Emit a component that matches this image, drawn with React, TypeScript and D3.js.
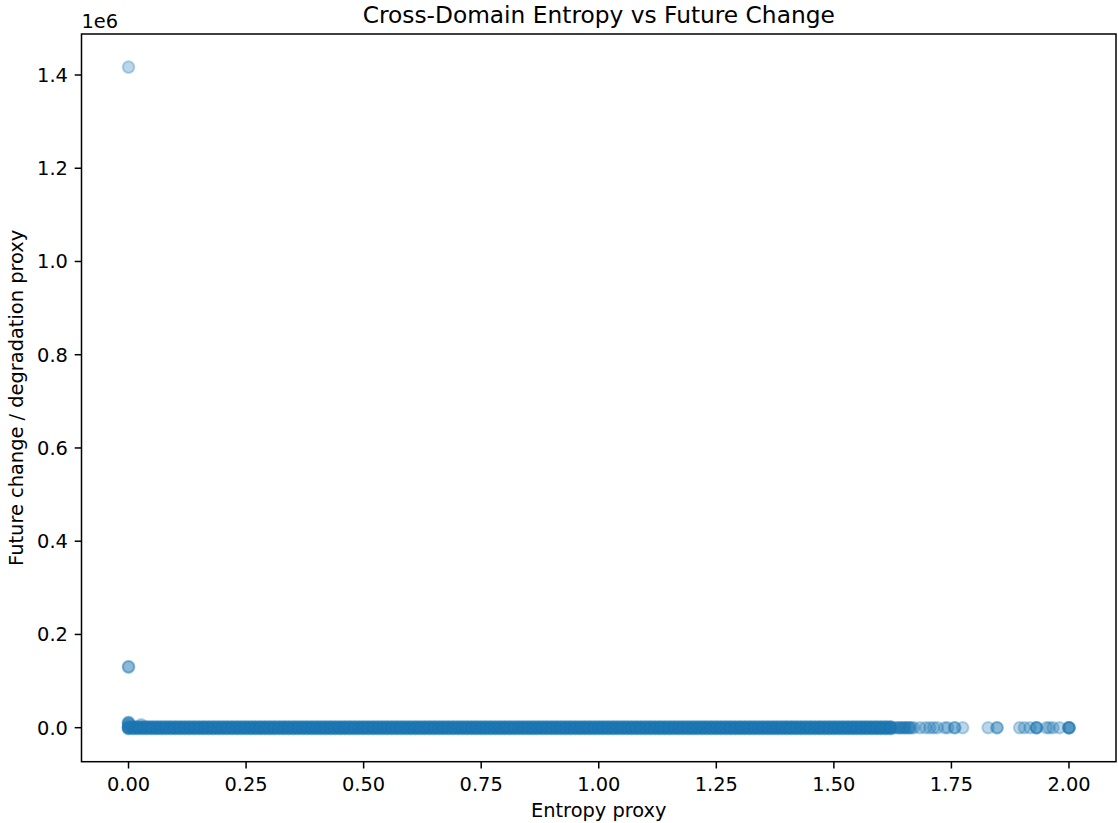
import React from "react";
import * as d3 from "d3";

// ---- data ----
const bandX = [
  0.00, 0.01, 0.02, 0.03, 0.04, 0.05, 0.06, 0.07, 0.08, 0.09,
  0.10, 0.11, 0.12, 0.13, 0.14, 0.15, 0.16, 0.17, 0.18, 0.19,
  0.20, 0.21, 0.22, 0.23, 0.24, 0.25, 0.26, 0.27, 0.28, 0.29,
  0.30, 0.31, 0.32, 0.33, 0.34, 0.35, 0.36, 0.37, 0.38, 0.39,
  0.40, 0.41, 0.42, 0.43, 0.44, 0.45, 0.46, 0.47, 0.48, 0.49,
  0.50, 0.51, 0.52, 0.53, 0.54, 0.55, 0.56, 0.57, 0.58, 0.59,
  0.60, 0.61, 0.62, 0.63, 0.64, 0.65, 0.66, 0.67, 0.68, 0.69,
  0.70, 0.71, 0.72, 0.73, 0.74, 0.75, 0.76, 0.77, 0.78, 0.79,
  0.80, 0.81, 0.82, 0.83, 0.84, 0.85, 0.86, 0.87, 0.88, 0.89,
  0.90, 0.91, 0.92, 0.93, 0.94, 0.95, 0.96, 0.97, 0.98, 0.99,
  1.00, 1.01, 1.02, 1.03, 1.04, 1.05, 1.06, 1.07, 1.08, 1.09,
  1.10, 1.11, 1.12, 1.13, 1.14, 1.15, 1.16, 1.17, 1.18, 1.19,
  1.20, 1.21, 1.22, 1.23, 1.24, 1.25, 1.26, 1.27, 1.28, 1.29,
  1.30, 1.31, 1.32, 1.33, 1.34, 1.35, 1.36, 1.37, 1.38, 1.39,
  1.40, 1.41, 1.42, 1.43, 1.44, 1.45, 1.46, 1.47, 1.48, 1.49,
  1.50, 1.51, 1.52, 1.53, 1.54, 1.55, 1.56, 1.57, 1.58, 1.59,
  1.60, 1.61, 1.62,
];
// the dense band: many records at each entropy value with tiny changes
const bandYLevels = [-2000, -1200, -400, 400, 1200, 2000];

// sparse tail of the band
const tailX = [
  1.625, 1.63, 1.635, 1.64, 1.64, 1.645, 1.65, 1.65, 1.655, 1.66, 1.66, 1.665,
  1.67, 1.683, 1.695, 1.704, 1.712, 1.72, 1.736, 1.742, 1.757, 1.757, 1.774,
  1.828, 1.847, 1.847,
  1.895, 1.905, 1.917, 1.931, 1.931, 1.931, 1.952, 1.958, 1.966, 1.98,
  2.0, 2.0, 2.0, 2.0,
];
const tailY = [
  0, 0, 0, 0, 0, 0, 0, 0, 0, 0, 0, 0,
  0, 0, 0, 0, 0, 0, 0, 0, 0, 0, 0,
  0, 0, 0,
  0, 0, 0, 0, 0, 0, 0, 0, 0, 0,
  0, 0, 0, 0,
];

// outliers at zero entropy
const outX = [0.0, 0.0, 0.0, 0.0, 0.0, 0.0, 0.0, 0.027];
const outY = [1417000, 130500, 130500, 11000, 11000, 9000, 6000, 6000];

const xTicks = [0, 0.25, 0.5, 0.75, 1.0, 1.25, 1.5, 1.75, 2.0];
const yTicks = [0, 200000, 400000, 600000, 800000, 1000000, 1200000, 1400000];

const TITLE = "Cross-Domain Entropy vs Future Change";
const XLABEL = "Entropy proxy";
const YLABEL = "Future change / degradation proxy";
const COLOR = "#1f77b4";

export default function App() {
  const W = 1118, H = 823;
  const left = 81.5, right = 1116, top = 34, bottom = 761.7;

  const points: [number, number][] = [];
  bandX.forEach((x) => bandYLevels.forEach((y) => points.push([x, y])));
  tailX.forEach((x, i) => points.push([x, tailY[i]]));
  outX.forEach((x, i) => points.push([x, outY[i]]));

  const xs = points.map((p) => p[0]);
  const ys = points.map((p) => p[1]);
  const [x0, x1] = d3.extent(xs) as [number, number];
  const [y0, y1] = d3.extent(ys) as [number, number];
  const mx = (x1 - x0) * 0.05, my = (y1 - y0) * 0.05;
  const x = d3.scaleLinear().domain([x0 - mx, x1 + mx]).range([left, right]);
  const y = d3.scaleLinear().domain([y0 - my, y1 + my]).range([bottom, top]);

  const font = "DejaVu Sans, sans-serif";
  const tickLen = 6.8, pad = 6.8;

  return (
    <div style={{ position: "absolute", left: 0, top: 0 }}>
      <svg width={W} height={H} style={{ display: "block", background: "#fff" }} fontFamily={font}>
        <rect x={0} y={0} width={W} height={H} fill="#fff" />
        <g>
          {points.map((p, i) => (
            <circle
              key={i}
              cx={x(p[0])}
              cy={y(p[1])}
              r={5.8}
              fill={COLOR}
              fillOpacity={0.3}
              stroke={COLOR}
              strokeOpacity={0.3}
              strokeWidth={2}
            />
          ))}
        </g>
        {/* spines */}
        <rect x={left} y={top} width={right - left} height={bottom - top} fill="none" stroke="#000" strokeWidth={1.5} />
        {/* x ticks */}
        {xTicks.map((t) => (
          <g key={"x" + t}>
            <line x1={x(t)} x2={x(t)} y1={bottom} y2={bottom + tickLen} stroke="#000" strokeWidth={1.5} />
            <text x={x(t)} y={bottom + tickLen + pad + 15.6} fontSize={19.4} textAnchor="middle" fill="#000">
              {d3.format(".2f")(t)}
            </text>
          </g>
        ))}
        {/* y ticks */}
        {yTicks.map((t) => (
          <g key={"y" + t}>
            <line x1={left - tickLen} x2={left} y1={y(t)} y2={y(t)} stroke="#000" strokeWidth={1.5} />
            <text x={left - tickLen - pad} y={y(t) + 7} fontSize={19.4} textAnchor="end" fill="#000">
              {d3.format(".1f")(t / 1e6)}
            </text>
          </g>
        ))}
        <text x={left} y={28} fontSize={19.4} fill="#000">1e6</text>
        <text x={(left + right) / 2} y={23} fontSize={23.3} textAnchor="middle" fill="#000">{TITLE}</text>
        <text x={(left + right) / 2} y={817} fontSize={19.4} textAnchor="middle" fill="#000">{XLABEL}</text>
        <text
          transform={`translate(23, ${(top + bottom) / 2}) rotate(-90)`}
          fontSize={19.4}
          textAnchor="middle"
          fill="#000"
        >
          {YLABEL}
        </text>
      </svg>
    </div>
  );
}
